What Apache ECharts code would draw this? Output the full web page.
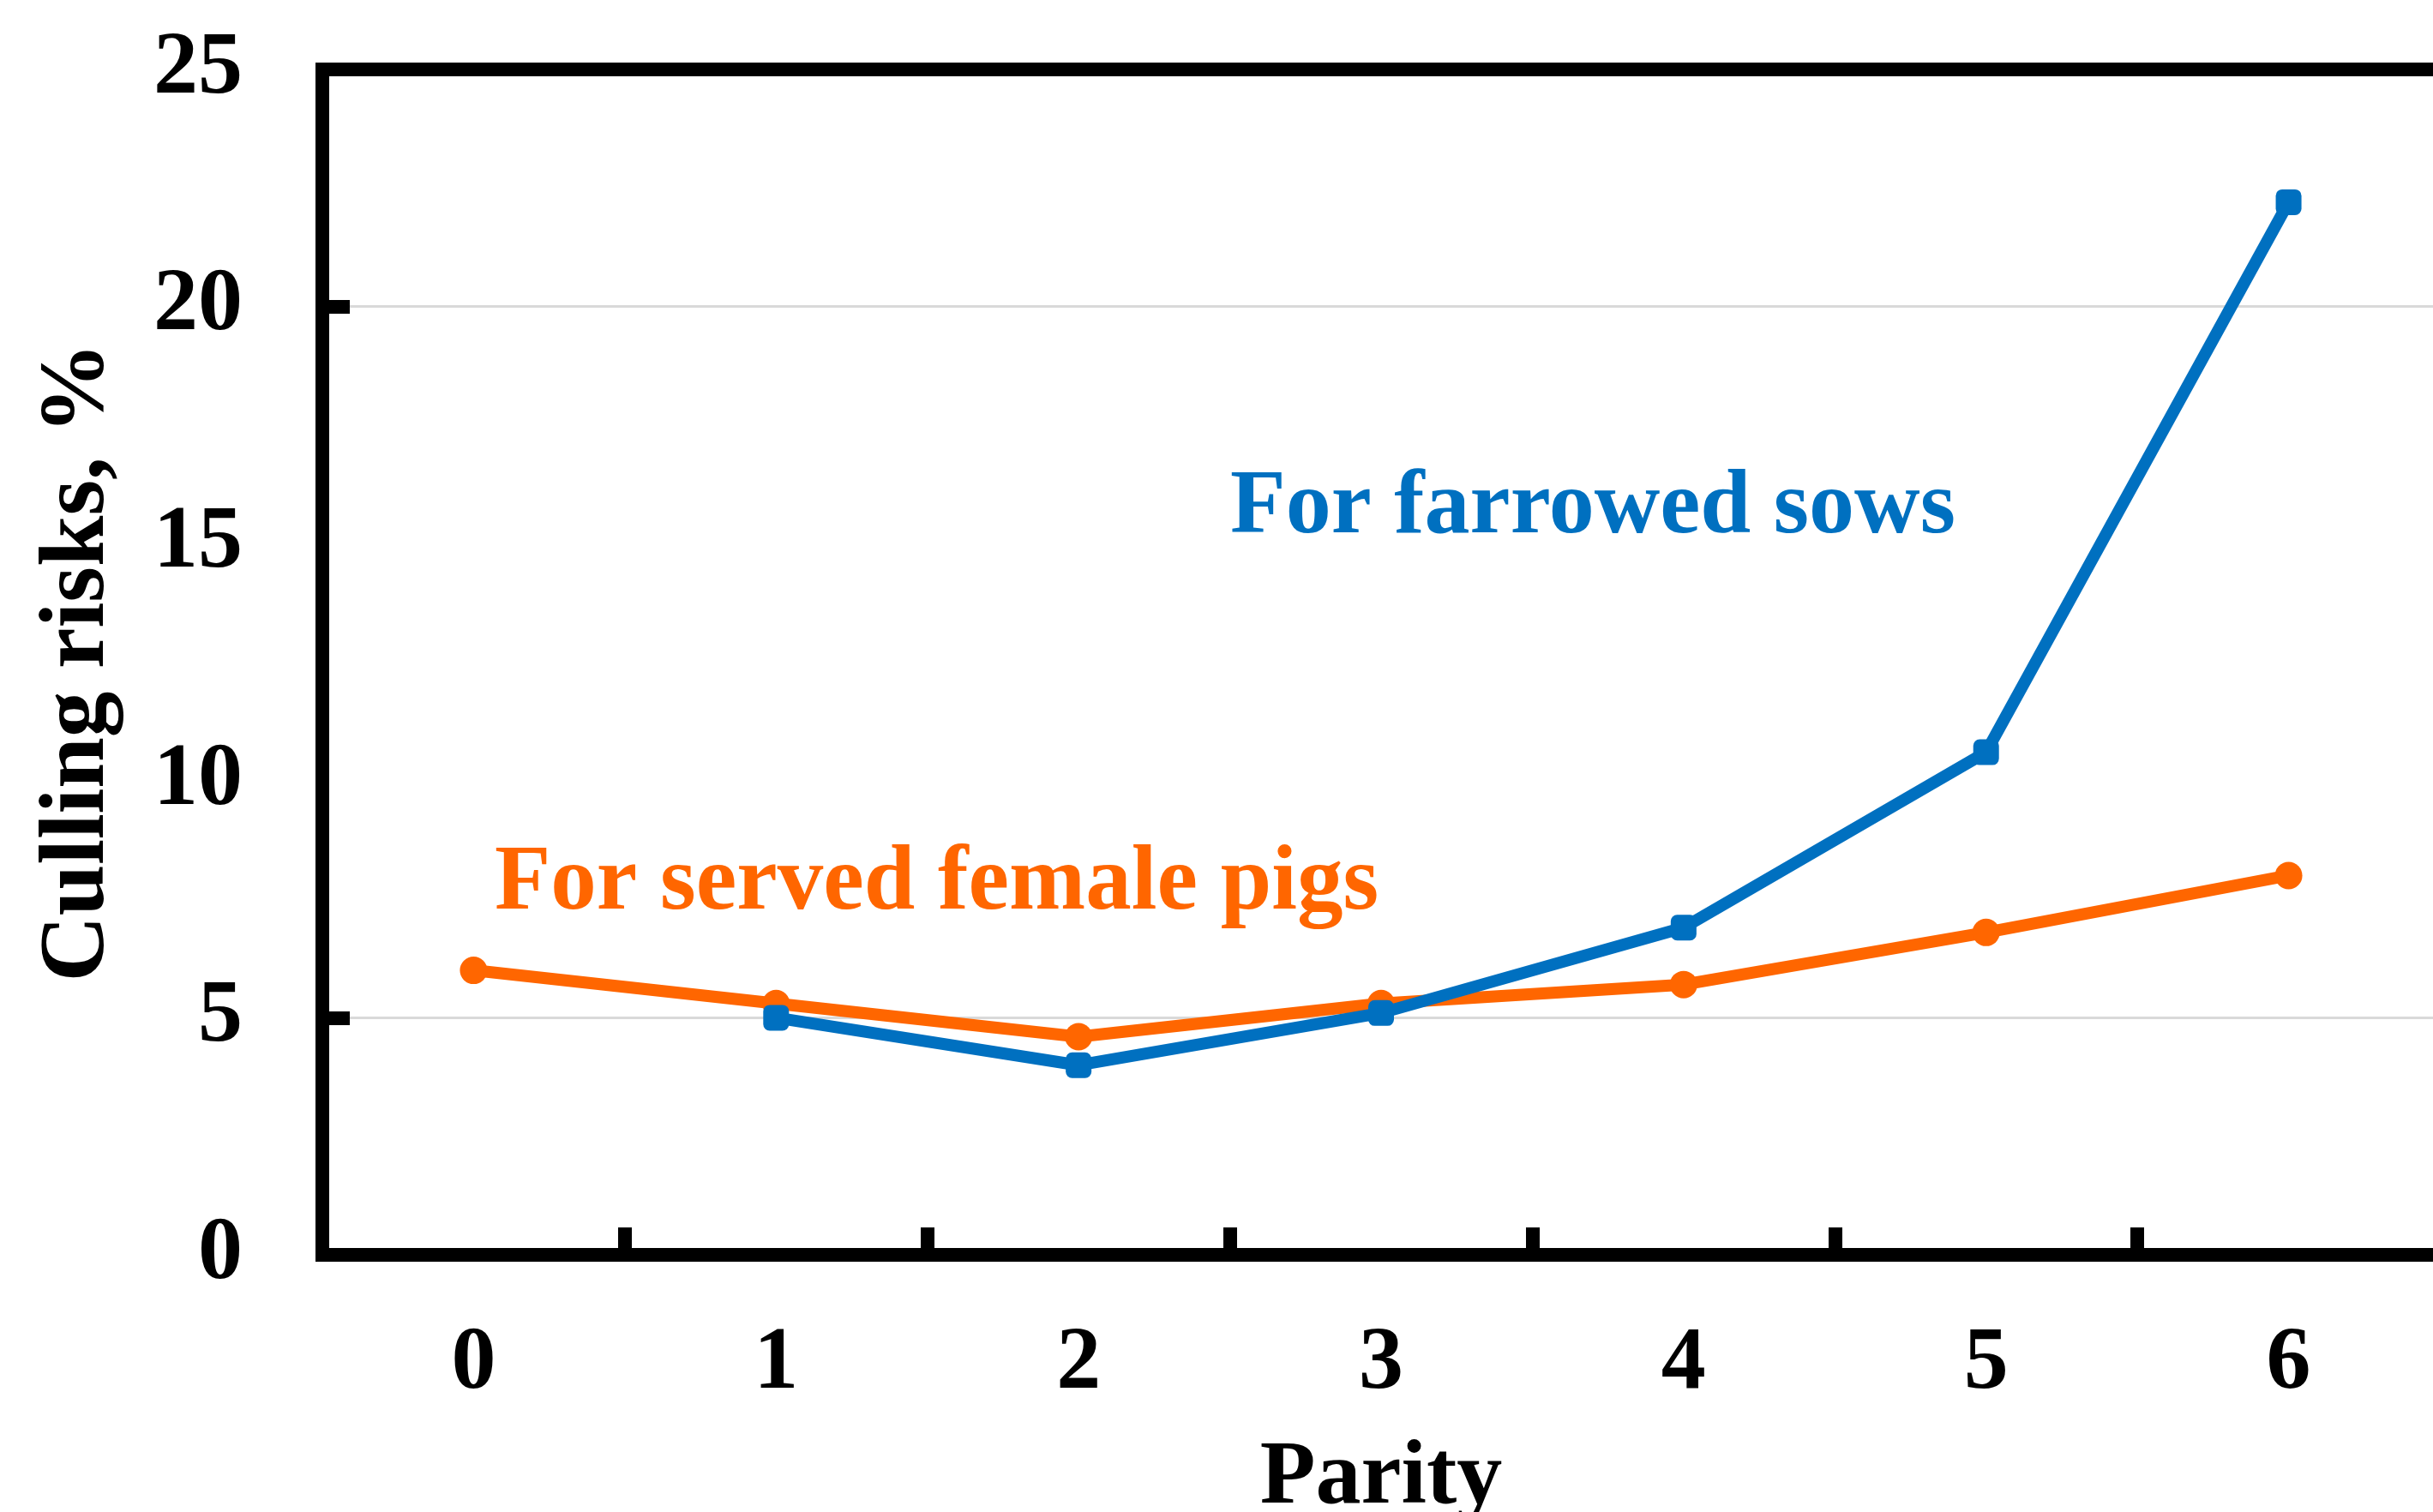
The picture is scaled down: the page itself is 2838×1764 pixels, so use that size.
<!DOCTYPE html>
<html>
<head>
<meta charset="utf-8">
<script src="https://cdn.jsdelivr.net/npm/echarts@6/dist/echarts.min.js"></script>
<style>
  html, body { margin: 0; padding: 0; background: #fff; overflow: hidden; }
  #chart { width: 2838px; height: 1764px; }
</style>
</head>
<body>
<div id="chart"></div>
<script>
// Parity categories on the x axis
const parity = ['0', '1', '2', '3', '4', '5', '6'];

// Culling risks (%) per parity
const servedFemalePigs = [6.0, 5.3, 4.6, 5.3, 5.7, 6.8, 8.0];
const farrowedSows = [null, 5.0, 4.0, 5.1, 6.9, 10.6, 22.2];

// Value axis range and tick marks
const yMin = 0;
const yMax = 25;
const yStep = 5;
const yTickMarks = [5, 20];

// Series names, also written as in-plot labels
const servedLabel = 'For served female pigs';
const farrowedLabel = 'For farrowed sows';

const ORANGE = '#FF6600';
const BLUE = '#0070C0';
const SERIF = '"Liberation Serif", "Times New Roman", serif';

const chart = echarts.init(document.getElementById('chart'), null, { renderer: 'canvas' });

chart.setOption({
  animation: false,
  backgroundColor: '#fff',
  grid: {
    left: 376,
    top: 81,
    width: 2470,
    height: 1383,
    show: true,
    borderColor: '#000',
    borderWidth: 16,
    outerBoundsMode: 'none'
  },
  xAxis: {
    type: 'category',
    data: parity,
    boundaryGap: true,
    name: 'Parity',
    nameLocation: 'middle',
    nameGap: 209,
    nameTextStyle: { fontFamily: SERIF, fontWeight: 'bold', fontSize: 106, color: '#000' },
    axisLine: { show: true, lineStyle: { color: '#000', width: 16 } },
    axisTick: { show: true, inside: true, length: 32, lineStyle: { color: '#000', width: 16 } },
    axisLabel: { fontFamily: SERIF, fontWeight: 'bold', fontSize: 104, color: '#000', margin: 76 },
    splitLine: { show: false }
  },
  yAxis: {
    type: 'value',
    min: yMin,
    max: yMax,
    interval: yStep,
    name: 'Culling risks, %',
    nameLocation: 'middle',
    nameGap: 230,
    nameTextStyle: { fontFamily: SERIF, fontWeight: 'bold', fontSize: 107, color: '#000' },
    axisLine: { show: true, lineStyle: { color: '#000', width: 16 } },
    axisTick: { show: true, inside: true, length: 32, customValues: yTickMarks, lineStyle: { color: '#000', width: 16 } },
    axisLabel: { fontFamily: SERIF, fontWeight: 'bold', fontSize: 104, color: '#000', margin: 93 },
    splitLine: { show: true, lineStyle: { color: '#d9d9d9', width: 3 } }
  },
  series: [
    {
      name: servedLabel,
      type: 'line',
      data: servedFemalePigs,
      symbol: 'circle',
      symbolSize: 32,
      lineStyle: { color: ORANGE, width: 14 },
      itemStyle: { color: ORANGE },
      emphasis: { disabled: true },
      z: 3
    },
    {
      name: farrowedLabel,
      type: 'line',
      data: farrowedSows,
      connectNulls: false,
      symbol: 'roundRect',
      symbolSize: 30,
      lineStyle: { color: BLUE, width: 14 },
      itemStyle: { color: BLUE },
      emphasis: { disabled: true },
      z: 4
    }
  ],
  graphic: [
    {
      type: 'text',
      x: 1435,
      y: 594,
      z: 10,
      style: {
        text: farrowedLabel,
        fill: BLUE,
        font: 'bold 106px ' + SERIF,
        align: 'left',
        verticalAlign: 'middle'
      }
    },
    {
      type: 'text',
      x: 577,
      y: 1032,
      z: 10,
      style: {
        text: servedLabel,
        fill: ORANGE,
        font: 'bold 107px ' + SERIF,
        align: 'left',
        verticalAlign: 'middle'
      }
    }
  ]
});
</script>
</body>
</html>
